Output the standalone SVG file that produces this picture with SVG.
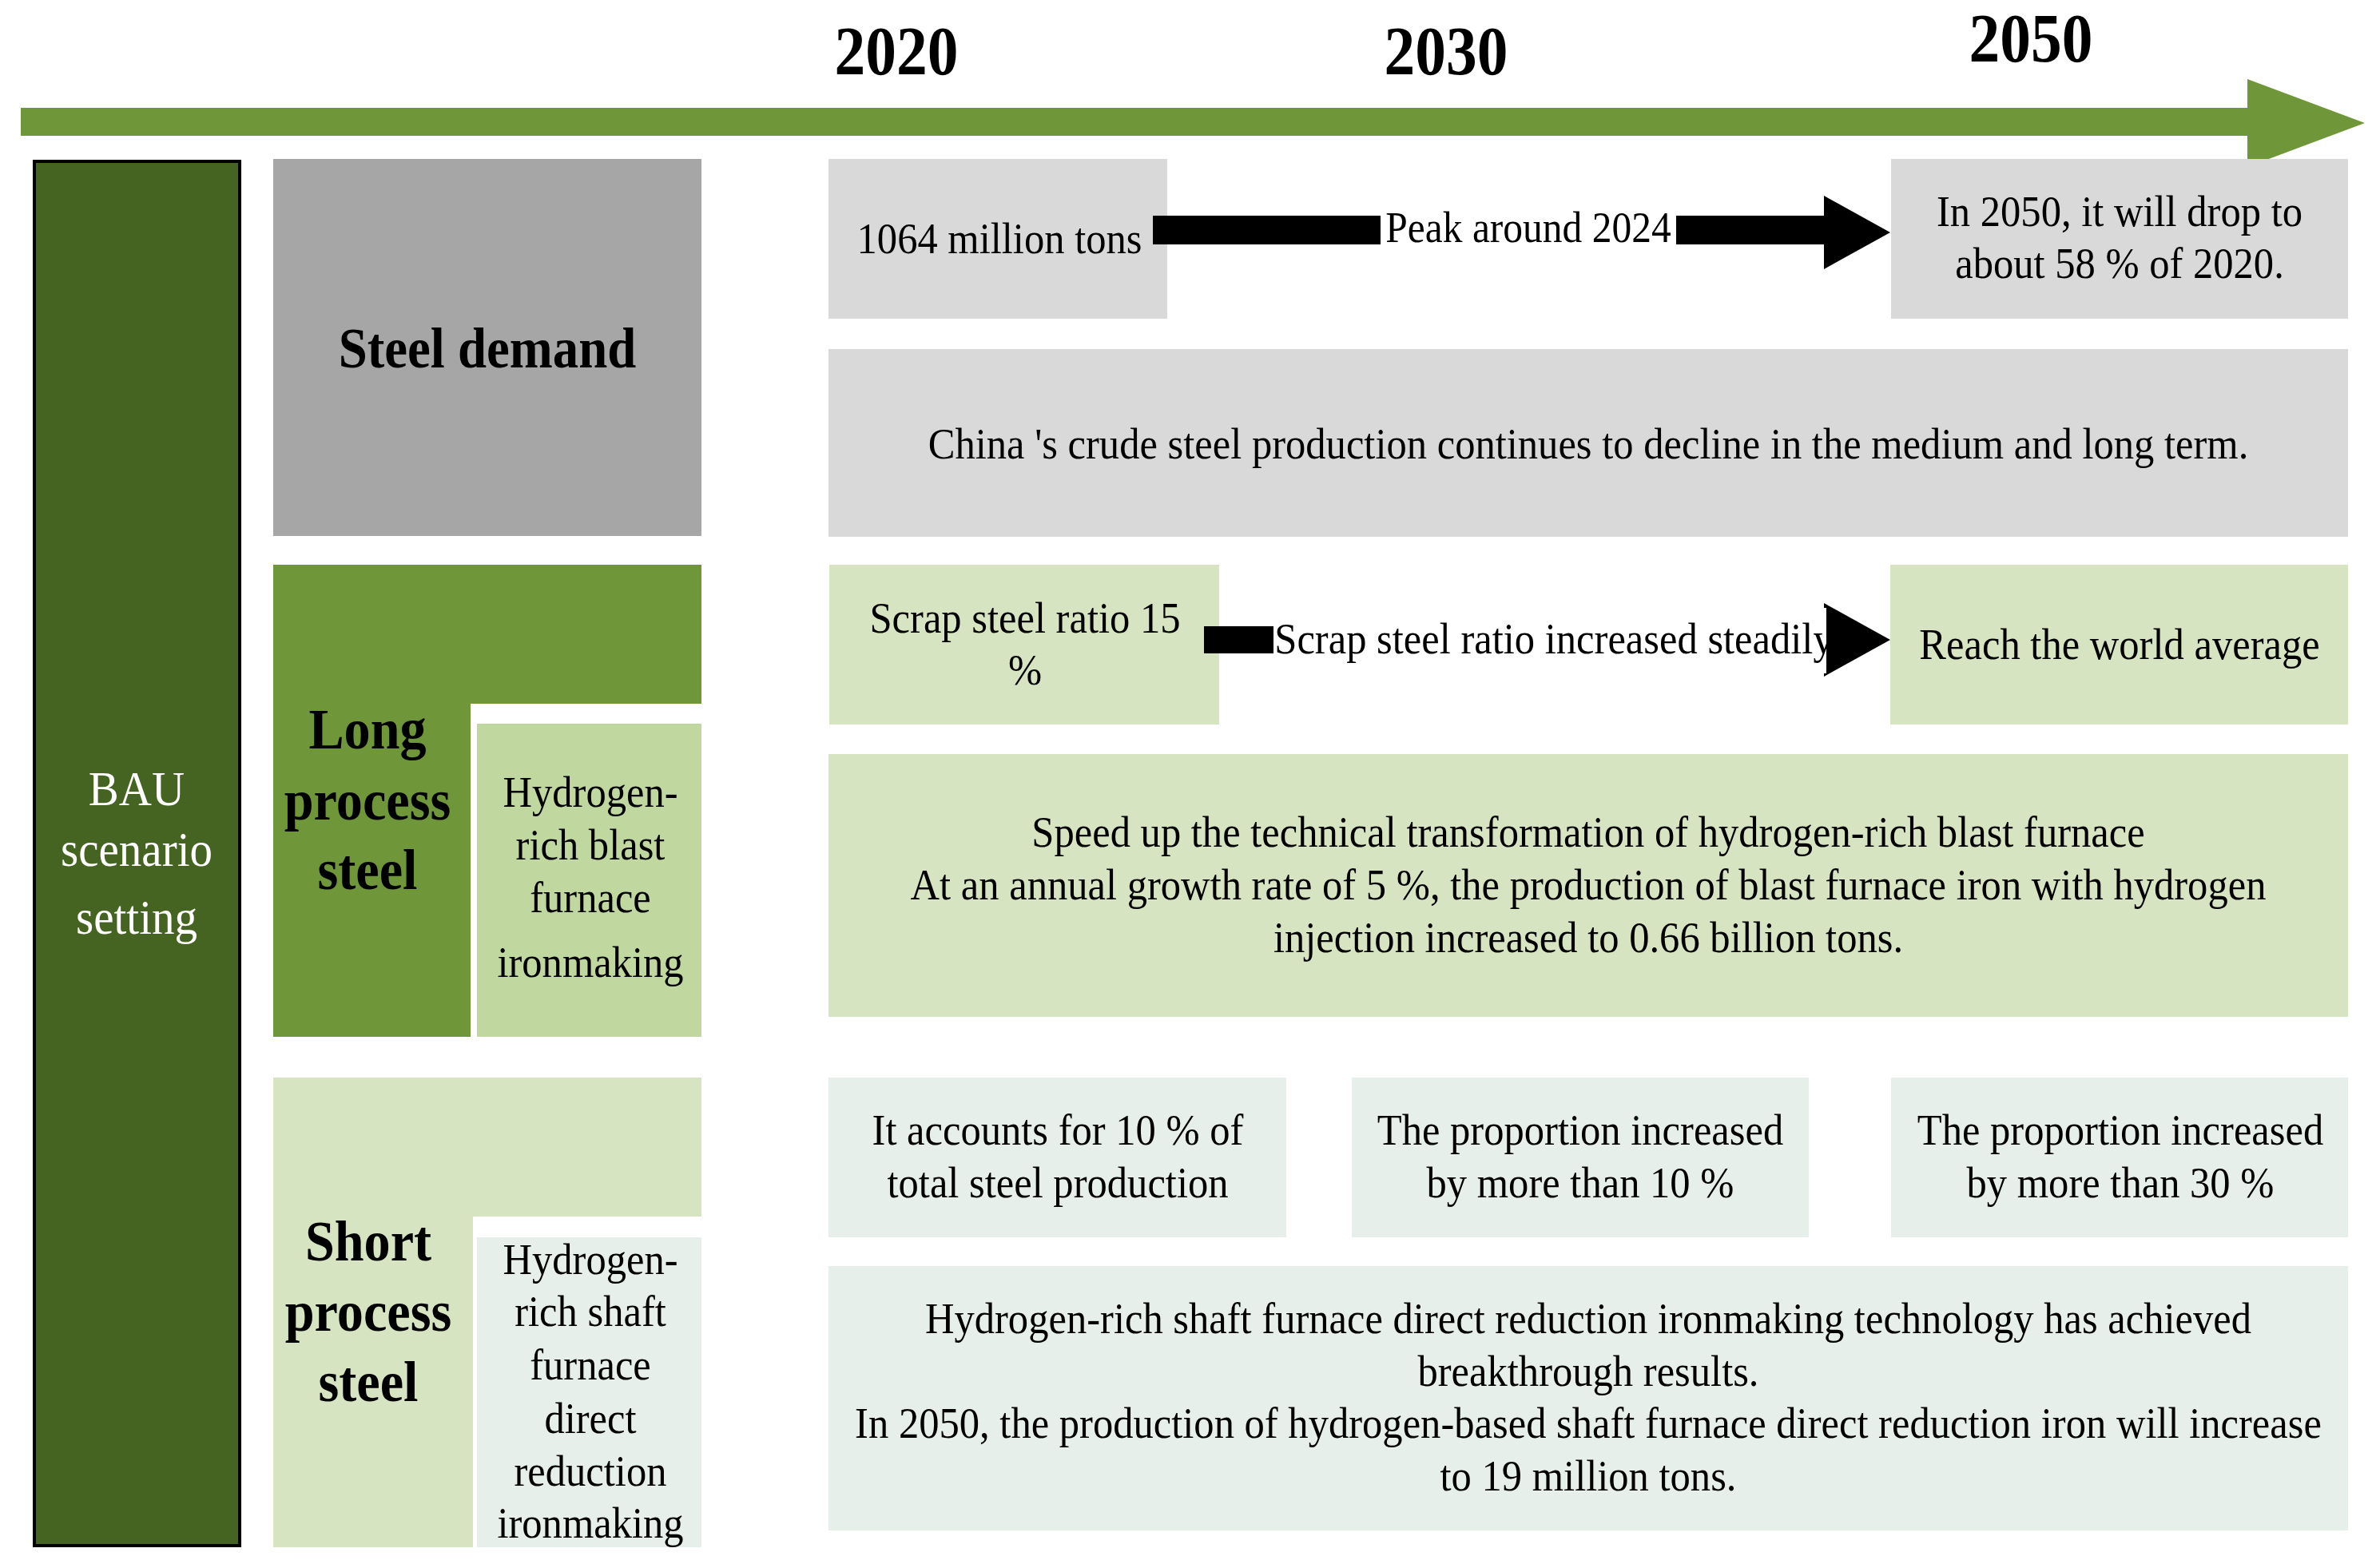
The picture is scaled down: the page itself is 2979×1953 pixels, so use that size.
<svg xmlns="http://www.w3.org/2000/svg" width="2979" height="1953" viewBox="0 0 2979 1953">
<style>
text{font-family:"Liberation Serif","Times New Roman",serif;fill:#000;text-anchor:middle}
.b{font-size:55px}
.h{font-size:72px;font-weight:bold}
.y{font-size:86px;font-weight:bold}
.w{fill:#fff}
.gray{fill:#d9d9d9}
.dgray{fill:#a6a6a6}
.green{fill:#6f9739}
.lgreen{fill:#d6e4c1}
.mgreen{fill:#c0d7a0}
.pale{fill:#e7efea}
</style>
<rect width="2979" height="1953" fill="#fff"/>
<g id="timeline">
<polygon class="green" points="26,135 2813,135 2813,99 2960,154 2813,209 2813,170 26,170"/>
<text class="y" transform="translate(1122,0) scale(0.9,1)" x="0" y="93">2020</text>
<text class="y" transform="translate(1810,0) scale(0.9,1)" x="0" y="93">2030</text>
<text class="y" transform="translate(2542,0) scale(0.9,1)" x="0" y="77">2050</text>
</g>
<g id="bau">
<rect x="43" y="202" width="257" height="1733" fill="#456321" stroke="#000" stroke-width="4"/>
<text class="b w" transform="translate(171,0) scale(0.92,1)" style="font-size:62px"><tspan x="0" y="1008">BAU</tspan><tspan x="0" y="1084">scenario</tspan><tspan x="0" y="1169">setting</tspan></text>
</g>
<g id="steel-demand">
<rect class="dgray" x="342" y="199" width="536" height="472"/>
<text class="h" transform="translate(610,0) scale(0.9,1)" x="0" y="460">Steel demand</text>
</g>
<g id="long-process">
<path class="green" d="M342,707 H878 V881 H589 V1298 H342 Z"/>
<text class="h" transform="translate(460,0) scale(0.92,1)"><tspan x="0" y="937">Long</tspan><tspan x="0" y="1026">process</tspan><tspan x="0" y="1113">steel</tspan></text>
</g>
<g id="hydrogen-blast">
<rect class="mgreen" x="597" y="906" width="281" height="392"/>
<text class="b" transform="translate(739,0) scale(0.92,1)"><tspan x="0" y="1010">Hydrogen-</tspan><tspan x="0" y="1076">rich blast</tspan><tspan x="0" y="1142">furnace</tspan><tspan x="0" y="1223">ironmaking</tspan></text>
</g>
<g id="short-process">
<path class="lgreen" d="M342,1349 H878 V1523 H592 V1937 H342 Z"/>
<text class="h" transform="translate(461,0) scale(0.92,1)"><tspan x="0" y="1578">Short</tspan><tspan x="0" y="1666">process</tspan><tspan x="0" y="1754">steel</tspan></text>
</g>
<g id="hydrogen-shaft">
<rect class="pale" x="597" y="1549" width="281" height="388"/>
<text class="b" transform="translate(739,0) scale(0.92,1)"><tspan x="0" y="1595">Hydrogen-</tspan><tspan x="0" y="1660">rich shaft</tspan><tspan x="0" y="1727">furnace</tspan><tspan x="0" y="1794">direct</tspan><tspan x="0" y="1860">reduction</tspan><tspan x="0" y="1925">ironmaking</tspan></text>
</g>
<g id="demand-2020">
<rect class="gray" x="1037" y="199" width="424" height="200"/>
<text class="b" transform="translate(1251,0) scale(0.92,1)" x="0" y="317">1064 million tons</text>
</g>
<g id="demand-2050">
<rect class="gray" x="2367" y="199" width="572" height="200"/>
<text class="b" transform="translate(2653,0) scale(0.92,1)"><tspan x="0" y="283">In 2050, it will drop to</tspan><tspan x="0" y="348">about 58 % of 2020.</tspan></text>
</g>
<g id="demand-trend">
<rect class="gray" x="1037" y="437" width="1902" height="235"/>
<text class="b" transform="translate(1988,0) scale(0.92,1)" x="0" y="574">China 's crude steel production continues to decline in the medium and long term.</text>
</g>
<g id="scrap-2020">
<rect class="lgreen" x="1038" y="707" width="488" height="200"/>
<text class="b" transform="translate(1283,0) scale(0.92,1)"><tspan x="0" y="792">Scrap steel ratio 15</tspan><tspan x="0" y="857">%</tspan></text>
</g>
<g id="scrap-2050">
<rect class="lgreen" x="2366" y="707" width="573" height="200"/>
<text class="b" transform="translate(2653,0) scale(0.92,1)" x="0" y="825">Reach the world average</text>
</g>
<g id="blast-furnace-plan">
<rect class="lgreen" x="1037" y="944" width="1902" height="329"/>
<text class="b" transform="translate(1988,0) scale(0.92,1)"><tspan x="0" y="1060">Speed up the technical transformation of hydrogen-rich blast furnace</tspan><tspan x="0" y="1126">At an annual growth rate of 5 %, the production of blast furnace iron with hydrogen</tspan><tspan x="0" y="1192">injection increased to 0.66 billion tons.</tspan></text>
</g>
<g id="short-2020">
<rect class="pale" x="1037" y="1349" width="573" height="200"/>
<text class="b" transform="translate(1324,0) scale(0.92,1)"><tspan x="0" y="1433">It accounts for 10 % of</tspan><tspan x="0" y="1499">total steel production</tspan></text>
</g>
<g id="short-2030">
<rect class="pale" x="1692" y="1349" width="572" height="200"/>
<text class="b" transform="translate(1978,0) scale(0.92,1)"><tspan x="0" y="1433">The proportion increased</tspan><tspan x="0" y="1499">by more than 10 %</tspan></text>
</g>
<g id="short-2050">
<rect class="pale" x="2367" y="1349" width="572" height="200"/>
<text class="b" transform="translate(2654,0) scale(0.92,1)"><tspan x="0" y="1433">The proportion increased</tspan><tspan x="0" y="1499">by more than 30 %</tspan></text>
</g>
<g id="shaft-furnace-plan">
<rect class="pale" x="1037" y="1585" width="1902" height="331"/>
<text class="b" transform="translate(1988,0) scale(0.92,1)"><tspan x="0" y="1669">Hydrogen-rich shaft furnace direct reduction ironmaking technology has achieved</tspan><tspan x="0" y="1735">breakthrough results.</tspan><tspan x="0" y="1800">In 2050, the production of hydrogen-based shaft furnace direct reduction iron will increase</tspan><tspan x="0" y="1866">to 19 million tons.</tspan></text>
</g>
<g id="connectors">
<polygon fill="#000" points="1443,270 2283,270 2283,245 2366,291 2283,337 2283,306 1443,306"/>
<rect class="w" x="1728" y="262" width="370" height="50"/>
<text class="b" transform="translate(1913,0) scale(0.9,1)" x="0" y="303">Peak around 2024</text>
<polygon fill="#000" points="1507,784 2283,784 2283,755 2366,801 2283,847 2283,818 1507,818"/>
<rect class="w" x="1594" y="761" width="692" height="82"/>
<text class="b" transform="translate(1945,0) scale(0.92,1)" x="0" y="818">Scrap steel ratio increased steadily</text>
</g>
</svg>
